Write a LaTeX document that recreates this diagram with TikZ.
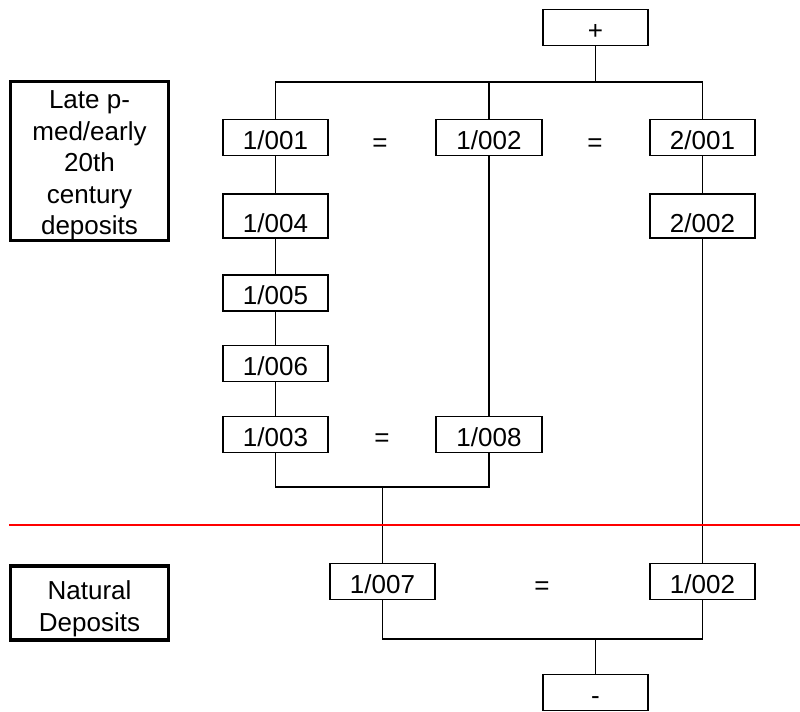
\documentclass[tikz,border=0pt]{standalone}
\usepackage{fontspec}
\setmainfont{Liberation Sans}
\usetikzlibrary{positioning}

\begin{document}
\begin{tikzpicture}[x=0.025cm, y=-0.025cm,
   unit/.style={draw, rectangle, line width=1.3pt, minimum width=2.64cm, minimum height=0.9cm, inner sep=0pt, text height=16.8pt, text depth=0pt, font=\fontsize{18.5}{22}\selectfont},
   unittall/.style={unit, minimum height=1.12cm, text height=23.2pt},
   phase/.style={draw, rectangle, line width=2.2pt, minimum width=3.97cm, inner sep=0pt, align=center, font=\fontsize{18.5}{22.5}\selectfont},
   equal/.style={font=\fontsize{18.5}{22}\selectfont},
   link/.style={line width=1.3pt},
   divider/.style={red, line width=1.9pt}
]
\useasboundingbox (0,0) rectangle (800,711);

% Phase labels
\node [phase, minimum height=3.85cm] (latephase) at (89.5,161) {\rule{0pt}{19pt}Late p-\\med/early\\20th\\century\\deposits};
\node [phase, minimum height=1.85cm] (natphase) at (89.5,603) {\rule{0pt}{22pt}Natural\\Deposits};

% Units
\node [unit] (plus) at (595.5,27.5) {+};
\node [unit] (u1001) at (275.5,137.5) {1/001};
\node [unit] (u1002) at (489,137.5) {1/002};
\node [unit] (u2001) at (702.5,137.5) {2/001};
\node [unittall] (u1004) at (275.5,216) {1/004};
\node [unittall] (u2002) at (702.5,216) {2/002};
\node [unit] (u1005) at (275.5,293) {1/005};
\node [unit] (u1006) at (275.5,363.5) {1/006};
\node [unit] (u1003) at (275.5,434.5) {1/003};
\node [unit] (u1008) at (489,434.5) {1/008};
\node [unit] (u1007) at (382.5,581.5) {1/007};
\node [unit] (u1002b) at (702.5,581.5) {1/002};
\node [unit] (minus) at (595.5,692.5) {-};

% Equivalences
\node [equal] (eqA) at (380,145) {=};
\node [equal] (eqB) at (595,145) {=};
\node [equal] (eqC) at (382,440) {=};
\node [equal] (eqD) at (542,588) {=};

% Bars
\coordinate (topbar) at (0,82);
\coordinate (midbar) at (0,487);
\coordinate (lowbar) at (0,639);
\coordinate (divL) at (9,525);
\coordinate (divR) at (800,525);

% Links
\draw[link] (plus) -- (plus |- topbar);
\draw[link] (u1001) |- (u2001 |- topbar) -- (u2001);
\draw[link] (u1002) -- (u1002 |- topbar);
\draw[link] (u1001) -- (u1004);
\draw[link] (u1004) -- (u1005);
\draw[link] (u1005) -- (u1006);
\draw[link] (u1006) -- (u1003);
\draw[link] (u1002) -- (u1008);
\draw[link] (u2001) -- (u2002);
\draw[link] (u1003) |- (u1008 |- midbar) -- (u1008);
\draw[link] (u1007 |- midbar) -- (u1007);
\draw[link] (u2002) -- (u1002b);
\draw[link] (u1007) |- (u1002b |- lowbar) -- (u1002b);
\draw[link] (minus) -- (minus |- lowbar);

% Divider
\draw[divider] (divL) -- (divR);
\end{tikzpicture}
\end{document}
